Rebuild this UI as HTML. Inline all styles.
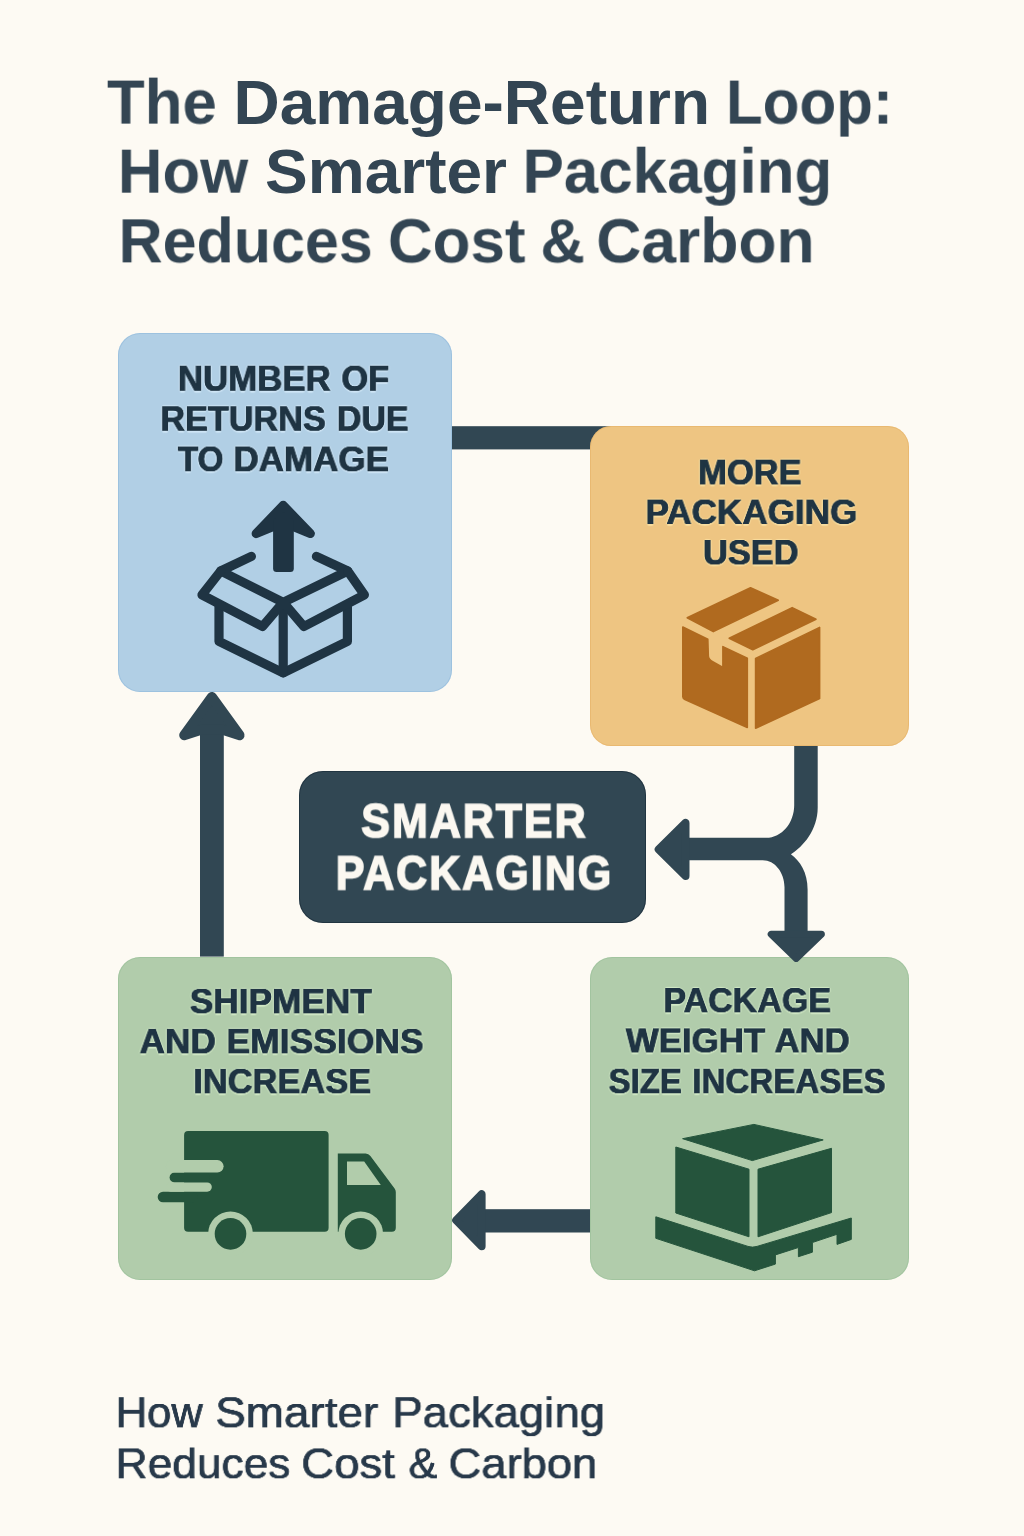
<!DOCTYPE html>
<html lang="en">
<head>
<meta charset="utf-8">
<meta name="viewport" content="width=1024">
<title>The Damage-Return Loop: How Smarter Packaging Reduces Cost &amp; Carbon</title>
<style>
*{box-sizing:border-box;margin:0;padding:0}
html,body{width:1024px;height:1536px;overflow:hidden}
body{position:relative;background:#fdfaf3;font-family:"Liberation Sans",Arial,Helvetica,sans-serif;color:#1f3443}
.ln{display:block}
.w{position:absolute;display:block;white-space:nowrap;line-height:1;transform-origin:0 0;will-change:transform}
.title,.caption,.label{position:absolute;left:0;top:0;font-size:0;font-weight:inherit}
.title{color:#334553;font-weight:700}
.caption{color:#28394a;font-weight:400;text-shadow:0.25px 0px 0 #28394a,-0.25px 0px 0 #28394a,0px 0.25px 0 #28394a,0px -0.25px 0 #28394a}
.label{font-weight:700}
.box{position:absolute;overflow:visible}
.box.blue{background:#b1cfe5;box-shadow:inset 0 0 0 1px rgba(120,170,212,.35);text-shadow:0.4px 0px 0 #1f3443,-0.4px 0px 0 #1f3443,0px 0.4px 0 #1f3443,0px -0.4px 0 #1f3443,1.5px 0 1px #cfe5f5,-1.5px 0 1px #cfe5f5,0 1.5px 1px #cfe5f5,0 -1.5px 1px #cfe5f5}
.box.orange{background:#eec582;box-shadow:inset 0 0 0 1px rgba(226,168,88,.4);text-shadow:0.4px 0px 0 #1f3443,-0.4px 0px 0 #1f3443,0px 0.4px 0 #1f3443,0px -0.4px 0 #1f3443,1.5px 0 1px #f8dea0,-1.5px 0 1px #f8dea0,0 1.5px 1px #f8dea0,0 -1.5px 1px #f8dea0}
.box.dark{background:#314753;color:#fbf8f1;box-shadow:inset 0 0 0 1px rgba(16,30,44,.45)}
.box.dark .w{-webkit-text-stroke:1.6px currentColor;letter-spacing:2.2px;text-shadow:none}
.box.greenl,.box.greenr{background:#b1ccab;box-shadow:inset 0 0 0 1px rgba(140,186,142,.4);text-shadow:0.4px 0px 0 #1f3443,-0.4px 0px 0 #1f3443,0px 0.4px 0 #1f3443,0px -0.4px 0 #1f3443,1.5px 0 1px #d2e9c6,-1.5px 0 1px #d2e9c6,0 1.5px 1px #d2e9c6,0 -1.5px 1px #d2e9c6}
.icon,.layer{position:absolute;left:0;top:0;display:block;overflow:visible;pointer-events:none}
</style>
</head>
<body>
<header>
<h1 class="title" aria-label="The Damage-Return Loop: How Smarter Packaging Reduces Cost &amp; Carbon">
<span class="ln"><span class="w" style="left:107px;top:70px;font-size:63px;transform:translate(0.00px,0.59px) scale(0.9798,1.0059)">The</span> <span class="w" style="left:233px;top:70px;font-size:63px;transform:translate(0.50px,0.59px) scale(1.0160,1.0059)">Damage-Return</span> <span class="w" style="left:725px;top:70px;font-size:63px;transform:translate(0.94px,0.59px) scale(0.9545,1.0059)">Loop:</span></span>
<span class="ln"><span class="w" style="left:117px;top:139px;font-size:63px;transform:translate(0.84px,0.69px) scale(0.9802,1.0080)">How</span> <span class="w" style="left:264px;top:139px;font-size:63px;transform:translate(1.00px,0.69px) scale(1.0163,1.0080)">Smarter</span> <span class="w" style="left:522px;top:139px;font-size:63px;transform:translate(0.53px,0.69px) scale(0.9826,1.0080)">Packaging</span></span>
<span class="ln"><span class="w" style="left:118px;top:209px;font-size:63px;transform:translate(0.59px,0.37px) scale(0.9679,0.9992)">Reduces</span> <span class="w" style="left:387px;top:209px;font-size:63px;transform:translate(0.86px,0.37px) scale(0.9832,0.9992)">Cost</span> <span class="w" style="left:540px;top:209px;font-size:63px;transform:translate(0.37px,0.37px) scale(0.9793,0.9992)">&amp;</span> <span class="w" style="left:596px;top:209px;font-size:63px;transform:translate(0.25px,0.37px) scale(0.9903,0.9992)">Carbon</span></span>
</h1>
</header>
<main>
<svg class="layer" width="1024" height="1536" viewBox="0 0 1024 1536" aria-hidden="true">
<rect x="451" y="426.2" width="160" height="23.2" fill="#314753"/>
</svg>
<section class="box blue" style="left:118px;top:333px;width:334px;height:359px;border-radius:22px">
<h2 class="label" aria-label="NUMBER OF RETURNS DUE TO DAMAGE">
<span class="ln"><span class="w" style="left:59px;top:28px;font-size:36px;transform:translate(0.91px,0.87px) scale(0.9669,0.9624)">NUMBER</span> <span class="w" style="left:223px;top:28px;font-size:36px;transform:translate(0.41px,0.87px) scale(0.9548,0.9624)">OF</span></span>
<span class="ln"><span class="w" style="left:42px;top:69px;font-size:36px;transform:translate(0.34px,0.44px) scale(0.9504,0.9437)">RETURNS</span> <span class="w" style="left:218px;top:69px;font-size:36px;transform:translate(0.86px,0.44px) scale(0.9428,0.9437)">DUE</span></span>
<span class="ln"><span class="w" style="left:59px;top:109px;font-size:36px;transform:translate(0.87px,0.73px) scale(0.9239,0.9499)">TO</span> <span class="w" style="left:115px;top:109px;font-size:36px;transform:translate(0.40px,0.73px) scale(0.9721,0.9499)">DAMAGE</span></span>
</h2>
<svg class="icon" width="334" height="359" viewBox="118 333 334 359" aria-hidden="true">
<g fill="none" stroke="#1f3443" stroke-width="9.2" stroke-linecap="round" stroke-linejoin="round">
<path d="M219 607V641.4L283.2 672.8L347.4 641.4V607"/>
<path d="M283.2 604V672.8"/>
<path d="M251.4 556.4L220.7 571L283.2 602.3L347.7 571L316.4 556.4"/>
<path d="M220.7 571L202 594.9L262.5 626.5L283.2 602.3L303.9 626.5L364.4 594.9L347.7 571"/>
</g>
<g fill="#1f3443" stroke="#1f3443" stroke-linejoin="round">
<path stroke-width="9" d="M283.2 505.3L256.1 533.6L275 525.8H291.5L310.4 533.6Z"/>
<rect stroke="none" x="273.1" y="518" width="20.7" height="54" rx="3.5"/>
</g>
</svg>
</section>
<section class="box orange" style="left:590px;top:426px;width:319px;height:320px;border-radius:21px">
<h2 class="label" aria-label="MORE PACKAGING USED">
<span class="ln"><span class="w" style="left:108px;top:29px;font-size:36px;transform:translate(0.13px,0.82px) scale(0.9574,0.9529)">MORE</span></span>
<span class="ln"><span class="w" style="left:55px;top:69px;font-size:36px;transform:translate(0.50px,0.84px) scale(0.9749,0.9391)">PACKAGING</span></span>
<span class="ln"><span class="w" style="left:112px;top:110px;font-size:36px;transform:translate(0.97px,0.27px) scale(0.9552,0.9389)">USED</span></span>
</h2>
<svg class="icon" width="319" height="320" viewBox="590 426 319 320" aria-hidden="true">
<g fill="#b06a1f" stroke="#b06a1f" stroke-width="1.6" stroke-linejoin="round">
<path d="M687.2 617.8L750.5 587.8L778.3 600.2L713.3 631.6Z"/>
<path d="M729.2 638.2L792.2 607.6L816 619.2L752.8 649.8Z"/>
<path d="M682.8 627L707.8 639.2L708.3 656Q708.6 659.6 712.7 661.8L722.9 667.4V646.6L747.3 658.2V727.4L684.4 699.2Q682.8 698.4 682.8 696.6Z"/>
<path d="M755.6 658.4L819.6 627.4V698.6L755.6 728.2Z"/>
</g>
</svg>
</section>
<section class="box dark" style="left:299px;top:771px;width:347px;height:152px;border-radius:24px">
<h2 class="label" aria-label="SMARTER PACKAGING">
<span class="ln"><span class="w" style="left:62px;top:25px;font-size:47.5px;transform:translate(0.30px,0.35px) scale(0.9042,1.0230)">SMARTER</span></span>
<span class="ln"><span class="w" style="left:36px;top:77px;font-size:47.5px;transform:translate(0.74px,0.46px) scale(0.9048,1.0271)">PACKAGING</span></span>
</h2>
</section>
<section class="box greenl" style="left:118px;top:957px;width:334px;height:323px;border-radius:22px">
<h2 class="label" aria-label="SHIPMENT AND EMISSIONS INCREASE">
<span class="ln"><span class="w" style="left:71px;top:28px;font-size:36px;transform:translate(0.74px,0.05px) scale(0.9791,0.9421)">SHIPMENT</span></span>
<span class="ln"><span class="w" style="left:21px;top:68px;font-size:36px;transform:translate(0.54px,0.05px) scale(0.9768,0.9421)">AND</span> <span class="w" style="left:108px;top:68px;font-size:36px;transform:translate(0.48px,0.05px) scale(0.9851,0.9421)">EMISSIONS</span></span>
<span class="ln"><span class="w" style="left:75px;top:108px;font-size:36px;transform:translate(0.23px,0.05px) scale(0.9568,0.9421)">INCREASE</span></span>
</h2>
<svg class="icon" width="334" height="323" viewBox="118 957 334 323" aria-hidden="true">
<g fill="#25543c">
<rect x="184.1" y="1131.1" width="144.5" height="100.7" rx="4"/>
<rect x="169.6" y="1172.5" width="40" height="10" rx="5"/>
<rect x="157.7" y="1191.7" width="40" height="10.6" rx="5.3"/>
<path d="M337.8 1153.5H365.6Q368.6 1153.5 370.4 1156L394.6 1188.4Q395.8 1190 395.8 1192V1227.8Q395.8 1231.8 391.8 1231.8H337.8Z"/>
</g>
<g fill="#b1ccab">
<rect x="166" y="1160.1" width="57.6" height="12.4" rx="6.2"/>
<rect x="166" y="1182.5" width="45.8" height="9.2" rx="4.6"/>
<path d="M347 1161.4H364.2L380.8 1185.1H347Z"/>
<circle cx="230.5" cy="1233.9" r="22.4"/>
<circle cx="360.7" cy="1233.9" r="22.4"/>
</g>
<g fill="#25543c">
<circle cx="230.5" cy="1233.9" r="15.8"/>
<circle cx="360.7" cy="1233.9" r="15.8"/>
</g>
</svg>
</section>
<section class="box greenr" style="left:590px;top:957px;width:319px;height:323px;border-radius:22px">
<h2 class="label" aria-label="PACKAGE WEIGHT AND SIZE INCREASES">
<span class="ln"><span class="w" style="left:73px;top:27px;font-size:36px;transform:translate(0.35px,0.27px) scale(0.9460,0.9335)">PACKAGE</span></span>
<span class="ln"><span class="w" style="left:35px;top:67px;font-size:36px;transform:translate(0.79px,0.62px) scale(0.9680,0.9267)">WEIGHT</span> <span class="w" style="left:184px;top:67px;font-size:36px;transform:translate(0.44px,0.62px) scale(0.9638,0.9267)">AND</span></span>
<span class="ln"><span class="w" style="left:18px;top:107px;font-size:36px;transform:translate(0.55px,0.94px) scale(0.9155,0.9423)">SIZE</span> <span class="w" style="left:102px;top:107px;font-size:36px;transform:translate(0.30px,0.94px) scale(0.9203,0.9423)">INCREASES</span></span>
</h2>
<svg class="icon" width="319" height="323" viewBox="590 957 319 323" aria-hidden="true">
<g fill="#25543c" stroke="#25543c" stroke-width="1" stroke-linejoin="round">
<path d="M682.6 1138.7L753.9 1124.4L823.2 1139.9L752.3 1160.6Z"/>
<path d="M675.8 1147L749 1169.2V1236.8L675.8 1213Z"/>
<path d="M758 1169.2L831.5 1148.3V1212.6L758 1236.8Z"/>
<path d="M655.8 1216.8L748 1246.4Q752.4 1247.8 757 1246.4L851.3 1218V1239.4L837 1244.4V1234.3L812.4 1242.5V1252.2L798.4 1256.7V1247.5L775.4 1254.9V1264.1L754.5 1270.8L655.8 1238.3Z"/>
</g>
</svg>
</section>
<svg class="layer" width="1024" height="1536" viewBox="0 0 1024 1536" aria-hidden="true">
<g fill="#314753" stroke="#314753" stroke-linejoin="round">
<!-- up arrow -->
<rect stroke="none" x="200" y="728" width="23.8" height="228.6"/>
<path stroke-width="10" d="M211.9 697L184.2 735.2L202 729.6H221.8L239.6 735.2Z"/>
<!-- bottom left arrow -->
<rect stroke="none" x="474" y="1209.2" width="116" height="23.3"/>
<path stroke-width="8" d="M456.2 1220.3L481.6 1194.2V1246.2Z"/>
<!-- fork -->
<path stroke="none" d="M794.2 746V805.2C794.2 823 781.7 837.8 766.3 837.8H688V860.3H762.8C774.7 860.3 784.5 872.4 784.5 887.3V934H807.6V889.6C807.6 872 800 861 790.9 854.2C803 847 817.7 830 817.7 807.6V746Z"/>
<path stroke-width="8" d="M658.7 849.3L685.5 822.9V876Z"/>
<path stroke-width="7" d="M771.2 934.2H821.4L796.2 958.4Z"/>
</g>
</svg>
</main>
<footer>
<p class="caption" aria-label="How Smarter Packaging Reduces Cost &amp; Carbon">
<span class="ln"><span class="w" style="left:115px;top:1391px;font-size:44px;transform:translate(0.75px,0.31px) scale(0.9881,0.9736)">How</span> <span class="w" style="left:215px;top:1391px;font-size:44px;transform:translate(0.23px,0.31px) scale(1.0413,0.9736)">Smarter</span> <span class="w" style="left:392px;top:1391px;font-size:44px;transform:translate(0.40px,0.31px) scale(1.0346,0.9736)">Packaging</span></span>
<span class="ln"><span class="w" style="left:115px;top:1442px;font-size:44px;transform:translate(0.69px,0.64px) scale(1.0062,0.9639)">Reduces</span> <span class="w" style="left:301px;top:1442px;font-size:44px;transform:translate(0.22px,0.64px) scale(1.0353,0.9639)">Cost</span> <span class="w" style="left:408px;top:1442px;font-size:44px;transform:translate(0.50px,0.64px) scale(0.9786,0.9639)">&amp;</span> <span class="w" style="left:448px;top:1442px;font-size:44px;transform:translate(0.53px,0.64px) scale(1.0308,0.9639)">Carbon</span></span>
</p>
</footer>
</body>
</html>
